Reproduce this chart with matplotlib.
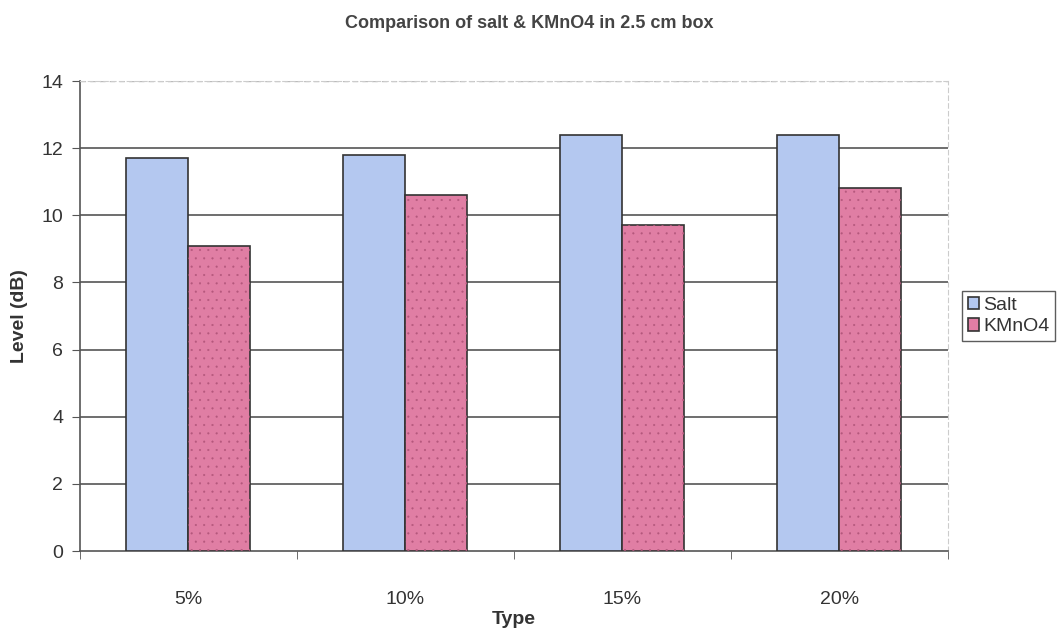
import matplotlib.pyplot as plt
import numpy as np

plt.rcParams['font.family'] = ['Liberation Sans', 'DejaVu Sans']
plt.rcParams['hatch.linewidth'] = 0.3

categories = ['5%', '10%', '15%', '20%']
salt = [11.7, 11.8, 12.4, 12.4]
kmno4 = [9.1, 10.6, 9.7, 10.8]

txt = '#333333'

fig = plt.figure(figsize=(10.59, 6.28), dpi=100)
ax = fig.add_axes([0.0755, 0.1226, 0.8195, 0.7484])

x = np.arange(len(categories))
w = 0.2857

# grid lines
for y in range(2, 14, 2):
    ax.axhline(y, color='#555555', lw=1.2, zorder=1)
ax.axhline(14, color='#bbbbbb', lw=1, ls=(0, (4, 3)), zorder=1)

ax.bar(x - w / 2, salt, w, color='#b4c8f0', edgecolor='#333333', lw=1.2, zorder=3, label='Salt')
ax.bar(x + w / 2, kmno4, w, color='#e07ea4', edgecolor='#333333', lw=1.2, zorder=3, label='KMnO4')
# dotted texture on the KMnO4 bars
ax.bar(x + w / 2, kmno4, w, color='none', edgecolor='#b4577c', hatch='..', lw=0, zorder=4)

ax.set_xlim(-0.5, 3.5)
ax.set_ylim(0, 14)
ax.set_yticks(range(0, 15, 2))
ax.set_xticks(x)
ax.set_xticklabels(categories)
ax.set_xticks(np.arange(-0.5, 4, 1), minor=True)
ax.tick_params(axis='x', which='major', length=0, pad=29, labelsize=14, labelcolor=txt)
ax.tick_params(axis='x', which='minor', length=6, color='#555555')
ax.tick_params(axis='y', length=6, color='#555555', labelsize=14, pad=6, labelcolor=txt)

for s in ['top', 'right']:
    ax.spines[s].set_color('#cccccc')
    ax.spines[s].set_linestyle((0, (4, 3)))
for s in ['left', 'bottom']:
    ax.spines[s].set_color('#555555')
    ax.spines[s].set_linewidth(1.2)

ax.set_ylabel('Level (dB)', fontsize=14, fontweight='bold', labelpad=10, color=txt)
ax.set_xlabel('Type', fontsize=14, fontweight='bold', labelpad=2, color=txt)
fig.text(0.5, 0.963, 'Comparison of salt & KMnO4 in 2.5 cm box', ha='center', va='center',
         fontsize=13, fontweight='bold', color='#444444')

leg = ax.legend(loc='center left', bbox_to_anchor=(1.016, 0.5), fontsize=14, frameon=True,
                fancybox=False, edgecolor='#333333', handlelength=0.6, handleheight=0.6,
                handletextpad=0.2, borderpad=0.3, borderaxespad=0, labelspacing=0.25)
leg.get_frame().set_linewidth(1)
for t in leg.get_texts():
    t.set_color(txt)

fig.savefig('out.png', dpi=100)
